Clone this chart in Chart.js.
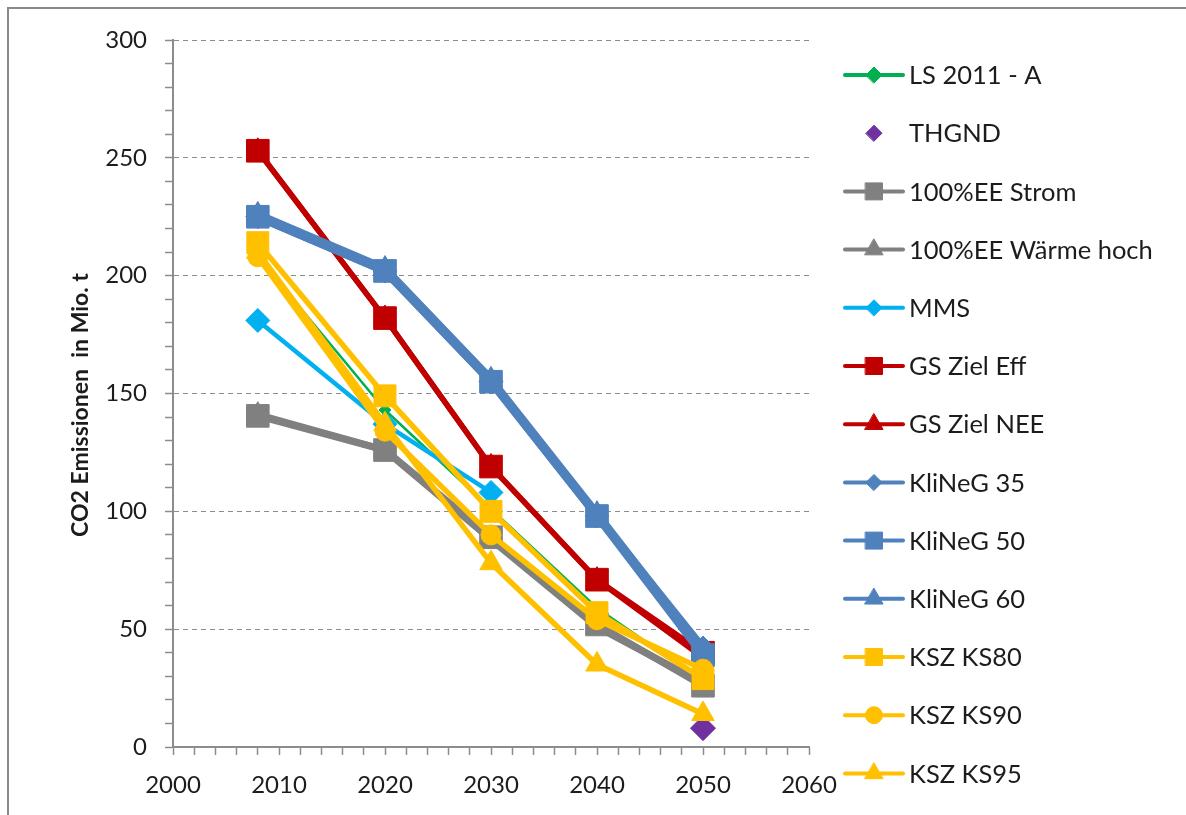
<!DOCTYPE html>
<html>
<head>
<meta charset="utf-8">
<script src="https://cdn.jsdelivr.net/npm/chart.js@4/dist/chart.umd.min.js"></script>
<style>
    html, body { margin: 0; padding: 0; background: #fff; }
    #wrap { position: relative; width: 1186px; height: 815px; overflow: hidden; }
    #frame {
        position: absolute; left: 7px; top: 7px; width: 1300px; height: 1000px;
        border-left: 2px solid #8a8a8a; border-top: 2px solid #8a8a8a;
    }
    #chart { position: absolute; left: 0; top: 0; }
</style>
</head>
<body>
<div id="wrap">
    <div id="frame"></div>
    <canvas id="chart" width="1186" height="815"></canvas>
</div>
<script>
    'use strict';

    // years on the x axis
    var years = [2008, 2020, 2030, 2040, 2050];

    // CO2 emissions, Mio. t
    var ls2011A = [208, 143, 101, 59, 28],
        thgnd = [null, null, null, null, 8],
        ee100Strom = [140.5, 126, 89, 52, 26],
        ee100WaermeHoch = [141, 126, 88, 51, 27],
        mms = [181, 137, 108, null, null],
        gsZielEff = [253, 182, 119, 71, 40],
        gsZielNee = [253, 182, 119, 71, 38],
        kliNeG35 = [225, 202, 155, 98, 42],
        kliNeG50 = [225, 202, 155, 98, 39],
        kliNeG60 = [226, 203, 156, 99, 41],
        kszKs80 = [214, 149, 100, 57, 29],
        kszKs90 = [208, 134, 90, 54, 33],
        kszKs95 = [210, 137, 78, 35, 14];

    var yTicks = [0, 50, 100, 150, 200, 250, 300],
        xTicks = [2000, 2010, 2020, 2030, 2040, 2050, 2060],
        yTitle = 'CO2 Emissionen  in Mio. t';

    var FONT = 'Lato, "Open Sans", sans-serif',
        TEXT = '#1c1c1c',
        AXIS = '#8c8c8c';

    var toPoints = function (values) {
            return years.map(function (year, i) {
                return { x: year, y: values[i] };
            });
        },

        series = function (label, values, color, style, radius, width, legendRadius) {
            return {
                label: label,
                data: toPoints(values),
                borderColor: color,
                backgroundColor: color,
                pointBackgroundColor: color,
                pointBorderColor: color,
                pointBorderWidth: 1,
                pointStyle: style,
                pointRadius: radius,
                pointHoverRadius: radius,
                borderWidth: width,
                showLine: width > 0,
                borderJoinStyle: 'round',
                borderCapStyle: 'round',
                spanGaps: false,
                legendRadius: legendRadius
            };
        };

    var datasets = [
        series('LS 2011 - A', ls2011A, '#00b050', 'rectRot', 6, 2.5, 8),
        series('THGND', thgnd, '#7030a0', 'rectRot', 12.5, 0, 8),
        series('100%EE Strom', ee100Strom, '#808080', 'rect', 16, 7, 12),
        series('100%EE Wärme hoch', ee100WaermeHoch, '#808080', 'triangle', 13, 7, 10.5),
        series('MMS', mms, '#00b0f0', 'rectRot', 12, 4.5, 8),
        series('GS Ziel Eff', gsZielEff, '#c00000', 'rect', 16, 5.5, 12),
        series('GS Ziel NEE', gsZielNee, '#c00000', 'triangle', 13, 5.5, 10.5),
        series('KliNeG 35', kliNeG35, '#4f81bd', 'rectRot', 12, 8, 8),
        series('KliNeG 50', kliNeG50, '#4f81bd', 'rect', 16, 8, 12),
        series('KliNeG 60', kliNeG60, '#4f81bd', 'triangle', 13, 8, 10.5),
        series('KSZ KS80', kszKs80, '#ffc000', 'rect', 15.5, 5.5, 12),
        series('KSZ KS90', kszKs90, '#ffc000', 'circle', 10, 5.5, 8.5),
        series('KSZ KS95', kszKs95, '#ffc000', 'triangle', 13, 5.5, 10.5)
    ];

    // later series sit on top, as in the original spreadsheet chart
    datasets.forEach(function (ds, i) { ds.order = datasets.length - i; });

    // legend drawn at the right: line sample, marker, label; plus the y title
    var sideLegend = {
        id: 'sideLegend',
        afterDraw: function (chart) {
            var ctx = chart.ctx,
                top = 75, step = 58.2,
                x0 = 845, x1 = 903, xm = 874, xt = 909;

            ctx.save();
            chart.data.datasets.forEach(function (ds, i) {
                var y = top + i * step;

                if (ds.showLine) {
                    ctx.strokeStyle = ds.borderColor;
                    ctx.lineWidth = 4;
                    ctx.lineCap = 'round';
                    ctx.beginPath();
                    ctx.moveTo(x0, y);
                    ctx.lineTo(x1, y);
                    ctx.stroke();
                }

                ctx.fillStyle = ds.borderColor;
                ctx.strokeStyle = ds.borderColor;
                ctx.lineWidth = 1;
                Chart.helpers.drawPoint(ctx, {
                    pointStyle: ds.pointStyle,
                    radius: ds.legendRadius,
                    rotation: 0,
                    borderWidth: 1
                }, xm, y);

                ctx.fillStyle = TEXT;
                ctx.font = '25.5px ' + FONT;
                ctx.textAlign = 'left';
                ctx.textBaseline = 'middle';
                ctx.fillText(ds.label, xt, y + 1);
            });

            ctx.translate(81, 405);
            ctx.rotate(-Math.PI / 2);
            ctx.fillStyle = TEXT;
            ctx.font = 'bold 23px ' + FONT;
            ctx.textAlign = 'center';
            ctx.textBaseline = 'middle';
            ctx.fillText(yTitle, 0, 0);
            ctx.restore();
        }
    };

    new Chart(document.getElementById('chart'), {
        type: 'line',
        data: { datasets: datasets },
        plugins: [sideLegend],
        options: {
            responsive: false,
            animation: false,
            events: [],
            layout: { padding: { left: 0, top: 40, right: 377, bottom: 0 } },
            plugins: {
                legend: { display: false },
                tooltip: { enabled: false }
            },
            scales: {
                x: {
                    type: 'linear',
                    min: 2000,
                    max: 2060,
                    afterFit: function (scale) { scale.height = 68; },
                    afterBuildTicks: function (scale) {
                        var ticks = [];
                        for (var v = 2000; v <= 2060; v += 2) { ticks.push({ value: v }); }
                        scale.ticks = ticks;
                    },
                    ticks: {
                        autoSkip: false,
                        maxRotation: 0,
                        padding: 16,
                        color: TEXT,
                        font: { family: FONT, size: 24 },
                        callback: function (value) {
                            return xTicks.indexOf(value) >= 0 ? String(value) : '';
                        }
                    },
                    grid: {
                        drawOnChartArea: false,
                        tickLength: 8,
                        tickColor: AXIS,
                        tickWidth: 1.5
                    },
                    border: { color: AXIS, width: 2 }
                },
                y: {
                    min: 0,
                    max: 300,
                    afterFit: function (scale) { scale.width = 173; },
                    afterBuildTicks: function (scale) {
                        var ticks = [];
                        for (var v = 0; v <= 300; v += 10) { ticks.push({ value: v }); }
                        scale.ticks = ticks;
                    },
                    ticks: {
                        autoSkip: false,
                        padding: 18,
                        color: TEXT,
                        font: { family: FONT, size: 24 },
                        callback: function (value) {
                            return yTicks.indexOf(value) >= 0 ? String(value) : '';
                        }
                    },
                    grid: {
                        tickLength: 8,
                        tickColor: AXIS,
                        tickWidth: 1.5,
                        lineWidth: 1,
                        color: function (ctx) {
                            var v = ctx.tick && ctx.tick.value;
                            return (v > 0 && v % 50 === 0) ? '#8c8c8c' : 'rgba(0,0,0,0)';
                        }
                    },
                    border: { color: AXIS, width: 2, dash: [5, 4] }
                }
            }
        }
    });
</script>
</body>
</html>
